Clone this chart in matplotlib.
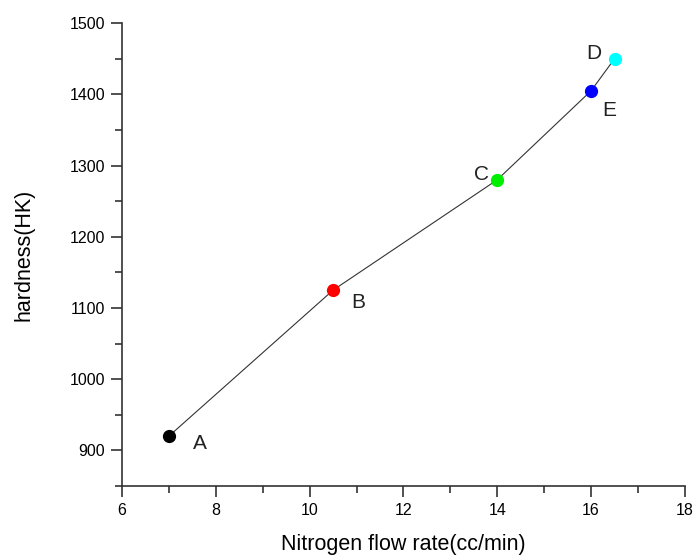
import matplotlib
matplotlib.use("Agg")
import matplotlib.pyplot as plt
from matplotlib.ticker import MultipleLocator

# data
labels = ["A", "B", "C", "E", "D"]
flow = [7.0, 10.5, 14.0, 16.0, 16.5]
hardness = [920, 1125, 1280, 1405, 1450]
colors = ["black", "red", "#00ee00", "blue", "cyan"]
offsets = {"A": (22, -5), "B": (18, -9), "C": (-11, 4), "E": (13, -14), "D": (-15, 4)}

plt.rcParams["font.family"] = ["Liberation Sans", "DejaVu Sans"]

fig = plt.figure(figsize=(6.95, 5.57), dpi=100)
ax = fig.add_axes([0.1755, 0.1275, 0.81, 0.831])

ax.plot(flow, hardness, color="#333333", linewidth=0.8, zorder=1)
for x, y, c, lab in zip(flow, hardness, colors, labels):
    ax.plot(x, y, "o", color=c, markersize=8.5, zorder=2)
    ax.annotate(lab, (x, y), xytext=offsets[lab], textcoords="offset points",
                ha="center", va="center", fontsize=15, color="#222222")

ax.set_xlim(6, 18)
ax.set_ylim(850, 1500)
ax.xaxis.set_major_locator(MultipleLocator(2))
ax.xaxis.set_minor_locator(MultipleLocator(1))
ax.yaxis.set_minor_locator(MultipleLocator(50))
ax.set_yticks(range(900, 1501, 100))

for side in ["top", "right"]:
    ax.spines[side].set_visible(False)
for side in ["left", "bottom"]:
    ax.spines[side].set_linewidth(1.2)
    ax.spines[side].set_color("#333333")

ax.tick_params(which="major", direction="out", length=8, width=1.2, color="#333333",
               labelsize=11.5, pad=4)
ax.tick_params(which="minor", direction="out", length=5, width=1.2, color="#333333")

ax.set_xlabel("Nitrogen flow rate(cc/min)", fontsize=15.5)
ax.set_ylabel("hardness(HK)", fontsize=15.5)
ax.xaxis.set_label_coords(0.5, -0.104)
ax.yaxis.set_label_coords(-0.156, 0.5)

fig.savefig("out.png", dpi=100)
